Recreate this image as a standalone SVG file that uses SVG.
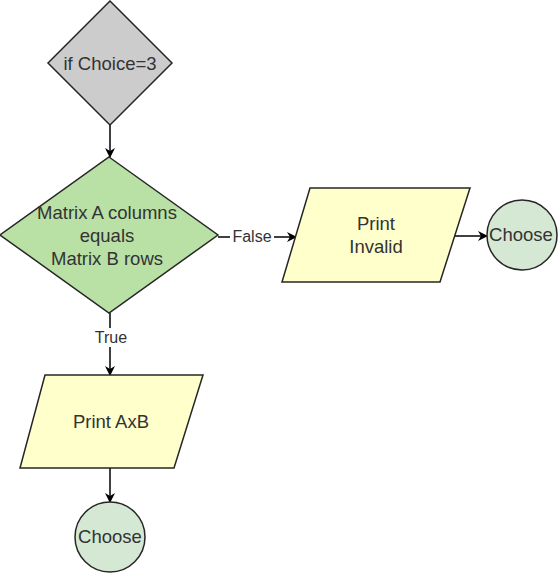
<svg xmlns="http://www.w3.org/2000/svg" width="560" height="573" viewBox="0 0 560 573">
<style>
.s{stroke:#262626;stroke-width:1.5}
.t{font-family:"Liberation Sans",Arial,sans-serif;font-size:18.5px;fill:#333333;text-anchor:middle}
.l{font-family:"Liberation Sans",Arial,sans-serif;font-size:16px;fill:#333333;text-anchor:middle}
.c{stroke:#000;stroke-width:1.5;fill:none}
</style>
<defs>
<marker id="a" markerWidth="10" markerHeight="10" refX="9" refY="5" orient="auto" markerUnits="userSpaceOnUse">
<path d="M0,0 L10,5 L0,10 L3,5 Z" fill="#000"/>
</marker>
</defs>
<rect width="560" height="573" fill="#ffffff"/>
<g id="connectors">
<line class="c" x1="110" y1="125" x2="110" y2="157" marker-end="url(#a)"/>
<line class="c" x1="218" y1="237" x2="296" y2="237" marker-end="url(#a)"/>
<rect x="230" y="226" width="44" height="20" fill="#ffffff"/>
<text class="l" x="252" y="242">False</text>
<line class="c" x1="455" y1="236" x2="487" y2="236" marker-end="url(#a)"/>
<line class="c" x1="110" y1="313" x2="110" y2="375" marker-end="url(#a)"/>
<rect x="93" y="328" width="34" height="19" fill="#ffffff"/>
<text class="l" x="111" y="343">True</text>
<line class="c" x1="110" y1="468" x2="110" y2="502" marker-end="url(#a)"/>
</g>
<g id="choice3">
<polygon class="s" points="110,1 172,63 110,125 48,63" fill="#cccccc"/>
<text class="t" x="110" y="70">if Choice=3</text>
</g>
<g id="matrixcheck">
<polygon class="s" points="109,157 218,235 109,313 0,235" fill="#b9e0a5"/>
<text class="t" x="107" y="219">Matrix A columns</text>
<text class="t" x="107" y="242">equals</text>
<text class="t" x="107" y="265">Matrix B rows</text>
</g>
<g id="printinvalid">
<polygon class="s" points="310,188 470,188 440,282 282,282" fill="#ffffcc"/>
<text class="t" x="376" y="230">Print</text>
<text class="t" x="376" y="253">Invalid</text>
</g>
<g id="choose1">
<circle class="s" cx="522" cy="235" r="35" fill="#d5e8d4"/>
<text class="t" x="521" y="241">Choose</text>
</g>
<g id="printaxb">
<polygon class="s" points="45,375 203,375 174,468 20,468" fill="#ffffcc"/>
<text class="t" x="111" y="428">Print AxB</text>
</g>
<g id="choose2">
<circle class="s" cx="110" cy="537" r="35" fill="#d5e8d4"/>
<text class="t" x="110" y="543">Choose</text>
</g>
</svg>
